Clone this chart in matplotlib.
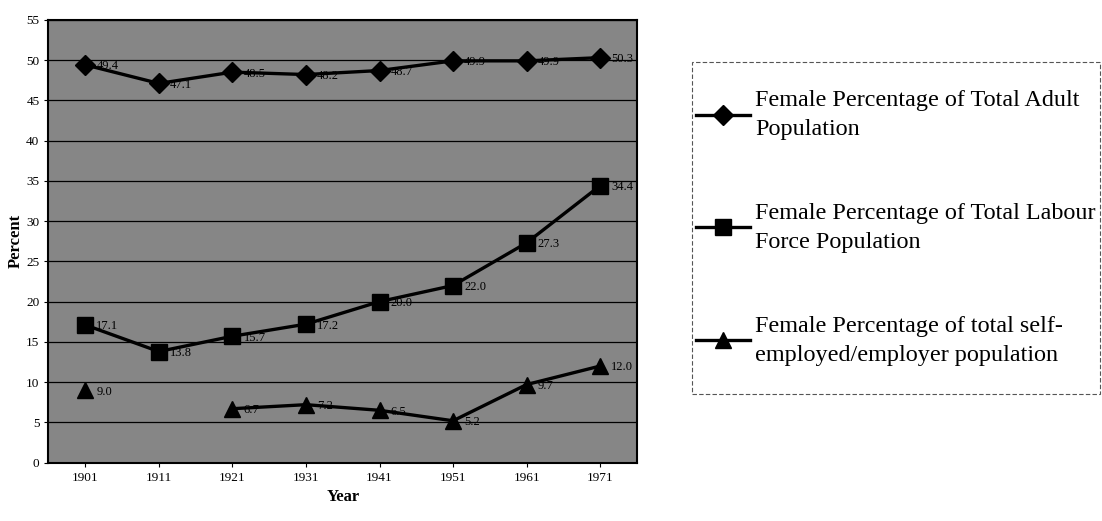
import matplotlib.pyplot as plt
from matplotlib.patches import Rectangle
import numpy as np

years = ['1901', '1911', '1921', '1931', '1941', '1951', '1961', '1971']
adult_pct = [49.4, 47.1, 48.5, 48.2, 48.7, 49.9, 49.9, 50.3]
labour_pct = [17.1, 13.8, 15.7, 17.2, 20.0, 22.0, 27.3, 34.4]
self_emp_pct = [9.0, None, 6.7, 7.2, 6.5, 5.2, 9.7, 12.0]

series = [
    ('Female Percentage of Total Adult\nPopulation', adult_pct, 'D', 10),
    ('Female Percentage of Total Labour\nForce Population', labour_pct, 's', 11),
    ('Female Percentage of total self-\nemployed/employer population', self_emp_pct, '^', 11),
]

plt.rcParams['font.family'] = ['Liberation Serif', 'DejaVu Serif']

fig = plt.figure(figsize=(11.02, 5.21), dpi=100)
ax = fig.add_axes([0.044, 0.112, 0.534, 0.850])
ax.set_facecolor('#868686')

x = np.arange(len(years))
for label, vals, marker, ms in series:
    y = np.array([np.nan if v is None else v for v in vals], dtype=float)
    ax.plot(x, y, color='black', linewidth=2.4, marker=marker, markersize=ms,
            label=label)
    for xi, yi in zip(x, y):
        if not np.isnan(yi):
            ax.annotate(f'{yi:.1f}', (xi, yi), xytext=(8, -1),
                        textcoords='offset points', fontsize=9, color='black',
                        va='center', ha='left')

ax.set_xlim(-0.5, len(years) - 0.5)
ax.set_ylim(0, 55)
ax.set_yticks(range(0, 56, 5))
ax.set_xticks(x)
ax.set_xticklabels(years)
ax.tick_params(axis='both', labelsize=9.5, length=3)
ax.grid(axis='y', color='black', linewidth=0.9)
ax.set_axisbelow(True)
for s in ax.spines.values():
    s.set_linewidth(1.5)

ax.set_xlabel('Year', fontsize=12, fontweight='bold', labelpad=4)
ax.set_ylabel('Percent', fontsize=12, fontweight='bold', labelpad=2)

# legend frame drawn by hand (narrow left padding, cut at the right edge)
fig.patches.append(Rectangle((692 / 1102, 1 - 394 / 521), 408 / 1102, 332 / 521,
                             transform=fig.transFigure, fill=False,
                             edgecolor='#555555', linewidth=0.8,
                             linestyle=(0, (4, 2))))

leg = fig.legend(loc='upper left', bbox_to_anchor=(696 / 1102, 1 - 90 / 521),
                 fontsize=17.4, frameon=False,
                 labelspacing=2.6, handlelength=2.25, handletextpad=0.2,
                 borderpad=0, borderaxespad=0)
for t in leg.get_texts():
    t.set_linespacing(1.5)

fig.savefig('out.png', dpi=100)
